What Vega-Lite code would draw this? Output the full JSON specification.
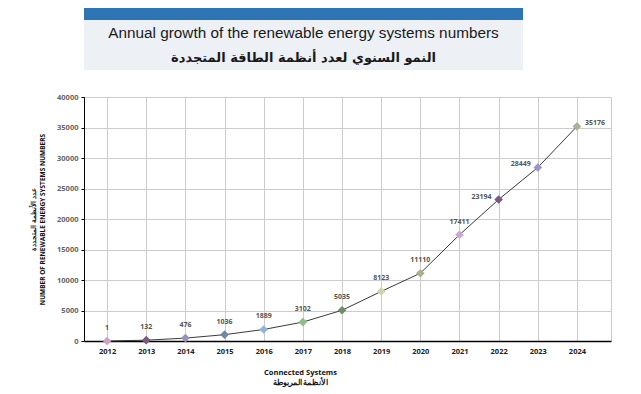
{
  "$schema": "https://vega.github.io/schema/vega-lite/v6.json",
  "padding": {"left": 29, "top": 8, "right": 5, "bottom": 3},
  "background": "white",
  "spacing": 22,
  "config": {"view": {"stroke": null}},
  "vconcat": [
    {
      "spacing": 0,
      "vconcat": [
        {
          "width": 439,
          "height": 12,
          "view": {"fill": "#2e75b6", "stroke": null},
          "data": {"values": [{"t": ""}]},
          "mark": {"type": "text"},
          "encoding": {"text": {"field": "t"}}
        },
        {
          "width": 439,
          "height": 50,
          "view": {"fill": "#edf0f4", "stroke": null},
          "data": {"values": [
            {"line": 1, "t": "Annual growth of the renewable energy systems numbers", "lang": "en"},
            {"line": 2, "t": "النمو السنوي لعدد أنظمة الطاقة المتجددة", "lang": "ar"}
          ]},
          "encoding": {
            "y": {"field": "line", "type": "ordinal", "scale": {"domain": [1, 2]}, "axis": null},
            "text": {"field": "t"}
          },
          "layer": [
            {
              "transform": [{"filter": "datum.lang === 'en'"}],
              "mark": {"type": "text", "font": "Liberation Sans", "fontSize": 15.3, "color": "#1a1a1a", "baseline": "middle"}
            },
            {
              "transform": [{"filter": "datum.lang === 'ar'"}],
              "mark": {"type": "text", "font": "DejaVu Sans", "fontWeight": "bold", "fontSize": 13, "color": "#1a1a1a", "baseline": "middle"}
            }
          ]
        }
      ]
    },
    {
      "width": 527,
      "height": 244,
      "view": {"stroke": "#cccccc", "strokeWidth": 1},
      "data": {"values": [
        {"year": 2012, "value": 1},
        {"year": 2013, "value": 132},
        {"year": 2014, "value": 476},
        {"year": 2015, "value": 1036},
        {"year": 2016, "value": 1889},
        {"year": 2017, "value": 3102},
        {"year": 2018, "value": 5035},
        {"year": 2019, "value": 8123},
        {"year": 2020, "value": 11110},
        {"year": 2021, "value": 17411},
        {"year": 2022, "value": 23194},
        {"year": 2023, "value": 28449},
        {"year": 2024, "value": 35176}
      ]},
      "encoding": {
        "x": {
          "field": "year", "type": "quantitative",
          "scale": {"domain": [2011.41, 2024.87], "nice": false, "zero": false},
          "axis": {
            "values": [2012, 2013, 2014, 2015, 2016, 2017, 2018, 2019, 2020, 2021, 2022, 2023, 2024],
            "format": "d",
            "title": ["Connected Systems", "الأنظمة المربوطة"],
            "titleFont": "Open Sans", "titleFontSize": 7.5, "titleFontWeight": "bold", "titleColor": "#111",
            "titleLineHeight": 10, "titlePadding": 14, "titleX": 216,
            "labelFont": "Open Sans", "labelFontSize": 7.5, "labelFontWeight": "bold", "labelColor": "#222",
            "labelPadding": 6, "ticks": false,
            "domainColor": "#000", "domainWidth": 1.5,
            "gridColor": "#cccccc", "gridWidth": 1
          }
        },
        "y": {
          "field": "value", "type": "quantitative",
          "scale": {"domain": [0, 40000], "nice": false},
          "axis": {
            "values": [0, 5000, 10000, 15000, 20000, 25000, 30000, 35000, 40000],
            "format": "d",
            "title": ["عدد الأنظمة المتجددة", "NUMBER OF RENEWABLE ENERGY SYSTEMS NUMBERS"],
            "titleFont": "Open Sans", "titleFontSize": 6.5, "titleFontWeight": "bold", "titleColor": "#111",
            "titleLineHeight": 9.5, "titlePadding": 11,
            "labelFont": "Open Sans", "labelFontSize": 7.5, "labelFontWeight": "bold", "labelColor": "#666",
            "labelPadding": 3, "tickSize": 3, "tickColor": "#000",
            "domainColor": "#000", "domainWidth": 1,
            "gridColor": "#cccccc", "gridWidth": 1
          }
        }
      },
      "layer": [
        {
          "mark": {"type": "line", "color": "#3a3a3a", "strokeWidth": 1}
        },
        {
          "mark": {"type": "point", "shape": "diamond", "filled": true, "size": 75, "opacity": 1},
          "encoding": {
            "color": {
              "field": "year", "type": "nominal", "legend": null,
              "scale": {
                "domain": [2012, 2013, 2014, 2015, 2016, 2017, 2018, 2019, 2020, 2021, 2022, 2023, 2024],
                "range": ["#c9a3c6", "#7b5a80", "#9894b9", "#6d87a8", "#92b4dc", "#8fbc8a", "#6e8e6a", "#cdd5a9", "#a9b08f", "#cba8d4", "#7d5982", "#9a96c4", "#aab391"]
              }
            }
          }
        },
        {
          "transform": [{"filter": "datum.year <= 2021"}],
          "mark": {"type": "text", "font": "Open Sans", "fontSize": 7, "fontWeight": "bold", "color": "#555", "dy": -13, "baseline": "middle"},
          "encoding": {"text": {"field": "value", "type": "quantitative", "format": "d"}}
        },
        {
          "transform": [{"filter": "datum.year == 2022 || datum.year == 2023"}],
          "mark": {"type": "text", "font": "Open Sans", "fontSize": 7, "fontWeight": "bold", "color": "#555", "dx": -7, "dy": -3, "align": "right", "baseline": "middle"},
          "encoding": {"text": {"field": "value", "type": "quantitative", "format": "d"}}
        },
        {
          "transform": [{"filter": "datum.year == 2024"}],
          "mark": {"type": "text", "font": "Open Sans", "fontSize": 7, "fontWeight": "bold", "color": "#555", "dx": 8, "dy": -3, "align": "left", "baseline": "middle"},
          "encoding": {"text": {"field": "value", "type": "quantitative", "format": "d"}}
        }
      ]
    }
  ]
}
